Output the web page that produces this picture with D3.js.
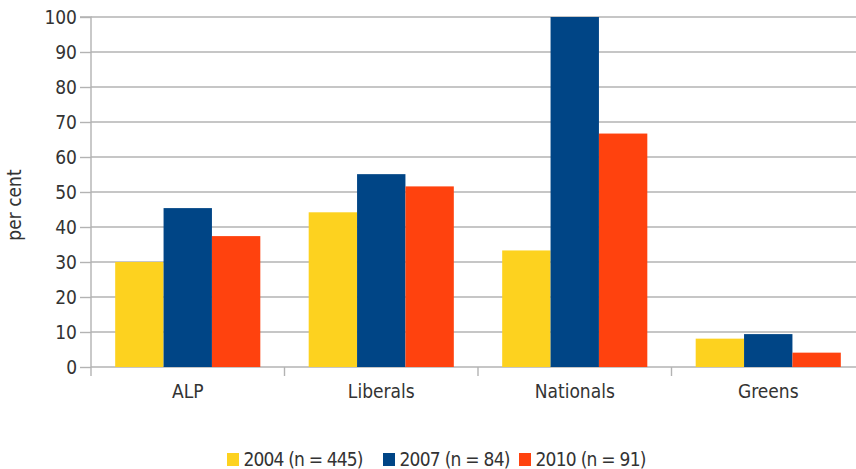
<!DOCTYPE html>
<html><head><meta charset="utf-8">
<script src="https://cdn.jsdelivr.net/npm/d3@7"></script>
<style>
html,body{margin:0;padding:0;background:#fff;}
svg{display:block;font-family:"DejaVu Sans Condensed","DejaVu Sans",sans-serif;}
</style></head>
<body>
<svg id="chart" width="856" height="469"></svg>
<script>
const categories = ["ALP", "Liberals", "Nationals", "Greens"];
const seriesNames = ["2004 (n = 445)", "2007 (n = 84)", "2010 (n = 91)"];
const values2004 = [30.0, 44.2, 33.3, 8.1];
const values2007 = [45.4, 55.1, 100, 9.4];
const values2010 = [37.4, 51.6, 66.7, 4.1];
const colors = ["#FDD21F", "#004586", "#FF420E"];
const yTicks = [0, 10, 20, 30, 40, 50, 60, 70, 80, 90, 100];
const yLabel = "per cent";

(function () {
const series = [values2004, values2007, values2010];
const svg = d3.select("#chart");
const mLeft = 91, mRight = 865, mTop = 17, mBottom = 367;
const textColor = "#333333";
const gridColor = "#b3b3b3";
const fs = 19;

const x = d3.scaleBand().domain(categories).range([mLeft, mRight]).paddingInner(0).paddingOuter(0);
const y = d3.scaleLinear().domain([0, 100]).range([mBottom, mTop]);
const xInner = d3.scaleBand().domain(d3.range(series.length)).range([0, x.bandwidth()]).paddingInner(0).paddingOuter(0.5);

// gridlines
svg.append("g").selectAll("line").data(yTicks).join("line")
  .attr("x1", mLeft).attr("x2", mRight)
  .attr("y1", d => y(d)).attr("y2", d => y(d))
  .attr("stroke", gridColor).attr("stroke-width", 1.4);

// bars
const groups = svg.append("g").selectAll("g").data(categories).join("g")
  .attr("transform", d => `translate(${x(d)},0)`);
groups.selectAll("rect").data((c, ci) => series.map((s, si) => ({si, v: s[ci]}))).join("rect")
  .attr("x", d => xInner(d.si)).attr("width", xInner.bandwidth())
  .attr("y", d => y(d.v)).attr("height", d => y(0) - y(d.v))
  .attr("fill", d => colors[d.si]);

// y axis
const yAxis = d3.axisLeft(y).tickValues(yTicks).tickSize(11).tickPadding(3);
const ya = svg.append("g").attr("transform", `translate(${mLeft},0)`).call(yAxis);
ya.select(".domain").attr("stroke", gridColor).attr("stroke-width", 1.4).attr("d", `M-11,${mTop}H0V${mBottom}`);
ya.selectAll(".tick line").attr("stroke", gridColor).attr("stroke-width", 1.4);
ya.selectAll(".tick text").attr("fill", textColor).attr("font-size", fs)
  .attr("font-family", "DejaVu Sans Condensed");
svg.append("line").attr("x1", mLeft).attr("x2", mLeft).attr("y1", mBottom).attr("y2", mBottom + 9)
  .attr("stroke", gridColor).attr("stroke-width", 1.4);

// x axis
const xAxis = d3.axisBottom(x).tickSize(0).tickPadding(18);
const xa = svg.append("g").attr("transform", `translate(0,${mBottom})`).call(xAxis);
xa.select(".domain").remove();
xa.selectAll(".tick text").attr("fill", textColor).attr("font-size", fs)
  .attr("font-family", "DejaVu Sans Condensed");
svg.append("g").selectAll("line").data(categories.slice(1)).join("line")
  .attr("x1", d => x(d)).attr("x2", d => x(d))
  .attr("y1", mBottom).attr("y2", mBottom + 9)
  .attr("stroke", gridColor).attr("stroke-width", 1.4);

// y label
svg.append("text").attr("transform", `translate(21,205) rotate(-90)`)
  .attr("text-anchor", "middle").attr("fill", textColor).attr("font-size", fs)
  .attr("font-family", "DejaVu Sans Condensed").text(yLabel);

// legend
const legendX = [227, 383, 519];
const legendW = [120, 111, 111];
const lg = svg.append("g").selectAll("g").data(seriesNames).join("g")
  .attr("transform", (d, i) => `translate(${legendX[i]},453)`);
lg.append("rect").attr("width", 12).attr("height", 13).attr("fill", (d, i) => colors[i]);
lg.append("text").attr("x", 16.5).attr("y", 13).attr("fill", textColor).attr("font-size", fs)
  .attr("font-family", "DejaVu Sans Condensed")
  .attr("textLength", (d, i) => legendW[i]).attr("lengthAdjust", "spacing")
  .text(d => d);
})();
</script>
</body></html>
